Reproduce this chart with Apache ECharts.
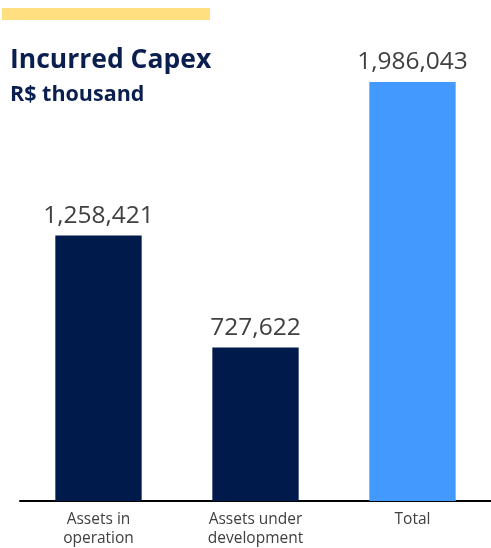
<!DOCTYPE html>
<html>
<head>
<meta charset="utf-8">
<script src="https://cdn.jsdelivr.net/npm/echarts@6/dist/echarts.min.js"></script>
<style>
  html, body { margin: 0; padding: 0; background: #fff; }
  #chart { width: 491px; height: 548px; }
</style>
</head>
<body>
<div id="chart"></div>
<script>
// Incurred capex by asset group, R$ thousand
const categories = ['Assets in\noperation', 'Assets under\ndevelopment', 'Total'];
const capexValues = [1258421, 727622, 1986043];
const barColors = ['#001a4c', '#001a4c', '#4499ff'];

const chart = echarts.init(document.getElementById('chart'));

chart.setOption({
  animation: false,
  title: {
    text: 'Incurred Capex',
    subtext: 'R$ thousand',
    left: 5,
    top: 42,
    itemGap: 10,
    textStyle: { fontFamily: 'Open Sans', fontWeight: 'bold', fontSize: 26.5, color: '#0b1f4f' },
    subtextStyle: { fontFamily: 'Open Sans', fontWeight: 'bold', fontSize: 21.5, color: '#0b1f4f' }
  },
  graphic: [{
    type: 'rect',
    shape: { x: 2, y: 8, width: 208, height: 12 },
    style: { fill: '#ffdf80' }
  }],
  grid: { left: 20, right: 0, top: 82, bottom: 46 },
  xAxis: {
    type: 'category',
    data: categories,
    axisLine: { lineStyle: { color: '#000', width: 2 } },
    axisTick: { show: false },
    axisLabel: { fontFamily: 'Open Sans', fontSize: 15.5, color: '#404040', lineHeight: 19, margin: 9 }
  },
  yAxis: {
    type: 'value',
    min: 0,
    max: 'dataMax',
    show: false,
    splitLine: { show: false }
  },
  series: [{
    type: 'bar',
    barWidth: '55%',
    data: capexValues.map((v, i) => ({ value: v, itemStyle: { color: barColors[i] } })),
    label: {
      show: true,
      position: 'top',
      distance: 7,
      fontFamily: 'Open Sans',
      fontSize: 24.5,
      color: '#404040',
      formatter: p => p.value.toLocaleString('en-US')
    }
  }]
});
</script>
</body>
</html>
